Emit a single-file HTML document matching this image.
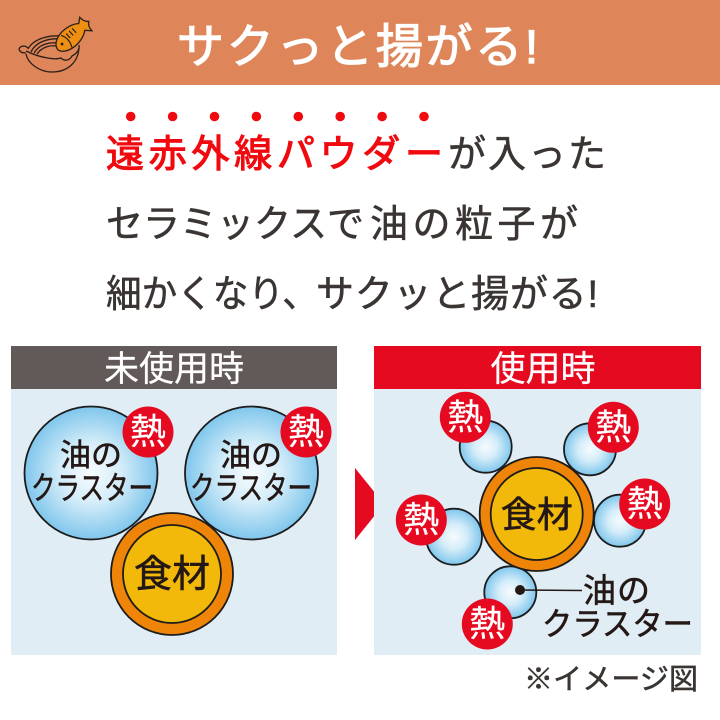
<!DOCTYPE html>
<html><head><meta charset="utf-8">
<style>
html,body{margin:0;padding:0;background:#fff}
svg{display:block}
text{font-family:"Liberation Sans","Noto Sans CJK JP",sans-serif}
.d{stroke:#231815;stroke-width:.6}
.w{stroke:#fff;stroke-width:.6}
.h{stroke:#fff;stroke-width:.25}
.b{stroke:#3a3533;stroke-width:.55}
</style></head>
<body>
<svg width="720" height="720" viewBox="0 0 720 720" xmlns="http://www.w3.org/2000/svg">
<defs>
<radialGradient id="g"><stop offset="0" stop-color="#f6fbfe"/><stop offset=".45" stop-color="#d5edf9"/><stop offset="1" stop-color="#7fc6ec"/></radialGradient>
<g id="heat"><circle r="25.5" fill="#e60a20"/><text y="12" text-anchor="middle" font-size="36" fill="#fff" class="h">熱</text></g>
</defs>
<rect width="720" height="85" fill="#de8659"/>
<!-- pan icon -->
<g fill="none" stroke="#2a1f1a" stroke-width="1.3">
<path d="M26 54C28 64 40 72 52 72C68 72 78 62 79 48"/>
<path d="M26 51C40 58 56 60 61 58C65 62 70 60 72 56C76 54 80 50 79 45"/>
<path d="M26 53C18 53 17 47 23 46C25 46 27 47 28 48"/>
<path d="M28 49C34 38 50 35 62 36M31 52C36 41 50 38 60 39M34 53C39 44 50 42 58 43M37 54C42 47 50 45 56 46"/>
</g>
<g transform="rotate(-42 71 36)">
<path d="M52 37C54 25 76 24 85 32L90 28C90 32 91 35 94 37C91 39 90 42 90 46L85 41C76 49 54 48 52 37Z" fill="#ee8f14" stroke="#2a1f1a" stroke-width="1.3"/>
<circle cx="59" cy="36" r="1.4" fill="#2a1f1a"/>
<path d="M64 29C67 34 67 40 64 45M69 31V37M73 31V37M77 31V37" fill="none" stroke="#2a1f1a" stroke-width="1.2"/>
</g>
<text x="177" y="63" font-size="47" fill="#fff" stroke="#fff" stroke-width="1.3" textLength="361" lengthAdjust="spacing">サクっと揚がる!</text>
<!-- emphasis dots -->
<g fill="#f00a0f">
<circle cx="130.7" cy="116.5" r="4.8"/><circle cx="172.6" cy="116.5" r="4.8"/><circle cx="214.5" cy="116.5" r="4.8"/><circle cx="256.4" cy="116.5" r="4.8"/><circle cx="298.3" cy="116.5" r="4.8"/><circle cx="340.2" cy="116.5" r="4.8"/><circle cx="382.1" cy="116.5" r="4.8"/><circle cx="424" cy="116.5" r="4.8"/>
</g>
<text x="106" y="167" font-size="38" fill="#f00a0f" stroke="#f00a0f" stroke-width="1.1" textLength="337" lengthAdjust="spacing">遠赤外線パウダー</text>
<text x="448" y="167" font-size="38" fill="#3a3533" class="b" textLength="158" lengthAdjust="spacing">が入った</text>
<text x="106" y="237" font-size="38" fill="#3a3533" class="b" textLength="258" lengthAdjust="spacingAndGlyphs">セラミックスで</text>
<text x="370" y="237" font-size="38" fill="#3a3533" class="b" textLength="208" lengthAdjust="spacing">油の粒子が</text>
<text x="106" y="307" font-size="38" fill="#3a3533" class="b" textLength="212" lengthAdjust="spacingAndGlyphs">細かくなり、</text>
<text x="316" y="307" font-size="38" fill="#3a3533" class="b" textLength="282" lengthAdjust="spacing">サクッと揚がる!</text>
<!-- left panel -->
<rect x="11" y="346" width="326" height="309" fill="#e1edf5"/>
<rect x="11" y="346" width="326" height="43" fill="#615a58"/>
<text x="174" y="381" text-anchor="middle" font-size="35" fill="#fff" class="h">未使用時</text>
<circle cx="91" cy="473" r="66.5" fill="url(#g)" stroke="#1c1c1c" stroke-width="1.8"/>
<circle cx="251.5" cy="473" r="66.5" fill="url(#g)" stroke="#1c1c1c" stroke-width="1.8"/>
<text x="91" y="466" text-anchor="middle" font-size="31" fill="#231815" class="d">油の</text>
<text x="31" y="499" font-size="32" fill="#231815" class="d" textLength="122" lengthAdjust="spacingAndGlyphs">クラスター</text>
<text x="251" y="466" text-anchor="middle" font-size="31" fill="#231815" class="d">油の</text>
<text x="190" y="499" font-size="32" fill="#231815" class="d" textLength="122" lengthAdjust="spacingAndGlyphs">クラスター</text>
<use href="#heat" x="148" y="432"/>
<use href="#heat" x="306" y="432"/>
<circle cx="172" cy="574" r="61" fill="#ee8408" stroke="#1c1c1c" stroke-width="1.8"/>
<circle cx="172" cy="574" r="49" fill="#f2b90a" stroke="#1c1c1c" stroke-width="1.8"/>
<text x="172" y="587" text-anchor="middle" font-size="38" fill="#231815" class="d">食材</text>
<!-- arrow -->
<polygon points="355,468 384,504 355,540" fill="#e60a20"/>
<!-- right panel -->
<rect x="374" y="346" width="327" height="309" fill="#e1edf5"/>
<rect x="374" y="346" width="327" height="43" fill="#e60a20"/>
<text x="543" y="381" text-anchor="middle" font-size="35" fill="#fff" class="h">使用時</text>
<g fill="url(#g)" stroke="#1c1c1c" stroke-width="1.8">
<circle cx="485.7" cy="446.7" r="26"/>
<circle cx="590" cy="449.3" r="26"/>
<circle cx="620" cy="520.7" r="26"/>
<circle cx="454" cy="536.7" r="28"/>
<circle cx="510.3" cy="592.3" r="26"/>
</g>
<use href="#heat" x="465.3" y="417.3"/>
<use href="#heat" x="613.3" y="427.3"/>
<use href="#heat" x="644.7" y="504"/>
<use href="#heat" x="421.3" y="520"/>
<use href="#heat" x="487.3" y="624"/>
<circle cx="536.7" cy="514" r="57" fill="#ee8408" stroke="#1c1c1c" stroke-width="1.8"/>
<circle cx="536.7" cy="514" r="46" fill="#f2b90a" stroke="#1c1c1c" stroke-width="1.8"/>
<text x="536.7" y="527" text-anchor="middle" font-size="36" fill="#231815" class="d">食材</text>
<circle cx="520" cy="590" r="5" fill="#231815"/>
<line x1="520" y1="590" x2="582" y2="590.5" stroke="#231815" stroke-width="1.5"/>
<text x="583" y="602" font-size="33" fill="#231815" class="d" textLength="67" lengthAdjust="spacing">油の</text>
<text x="542" y="635" font-size="32" fill="#231815" class="d" textLength="151" lengthAdjust="spacingAndGlyphs">クラスター</text>
<text x="524" y="689" font-size="29" fill="#3a3533" class="b" textLength="174" lengthAdjust="spacing">※イメージ図</text>
</svg>
</body></html>
